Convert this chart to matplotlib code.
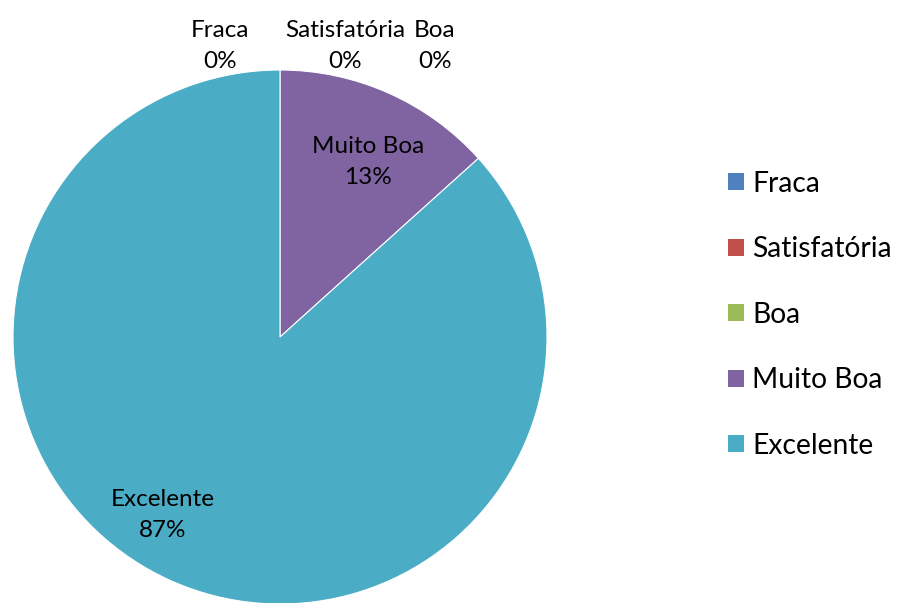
import matplotlib
matplotlib.use("Agg")
import matplotlib.pyplot as plt
from matplotlib.patches import Patch

plt.rcParams['font.family'] = ['Lato', 'DejaVu Sans']

categorias = ['Fraca', 'Satisfatória', 'Boa', 'Muito Boa', 'Excelente']
valores = [0, 0, 0, 2, 13]
cores = ['#4F81BD', '#C0504D', '#9BBB59', '#8064A2', '#4BACC6']

# posicao dos rotulos (coordenadas do eixo, raio = 1)
pos_rotulos = [(-0.225, 1.09), (0.243, 1.09), (0.58, 1.09), (0.33, 0.655), (-0.438, -0.667)]

fig = plt.figure(figsize=(9, 6.03), dpi=100)
ax = fig.add_axes([13 / 900, -1 / 603, 534 / 900, 534 / 603])
ax.pie(valores, colors=cores, startangle=90, counterclock=False, radius=1,
       wedgeprops=dict(linewidth=0.8, edgecolor='white'))
ax.set_xlim(-1, 1)
ax.set_ylim(-1, 1)
ax.set_aspect('equal')
ax.axis('off')

total = sum(valores)
for nome, v, (x, y) in zip(categorias, valores, pos_rotulos):
    ax.text(x, y, f"{nome}\n{v / total * 100:.0f}%", ha='center', va='center',
            fontsize=17.5, color='black', linespacing=1.55, clip_on=False)

handles = [Patch(facecolor=c, edgecolor='none') for c in cores]
fig.legend(handles, categorias, loc='center left', bbox_to_anchor=(0.781, 0.478),
           frameon=False, fontsize=20.3, handlelength=0.55, handleheight=0.55,
           handletextpad=0.3, labelspacing=1.4)

fig.savefig('out.png', dpi=100)
